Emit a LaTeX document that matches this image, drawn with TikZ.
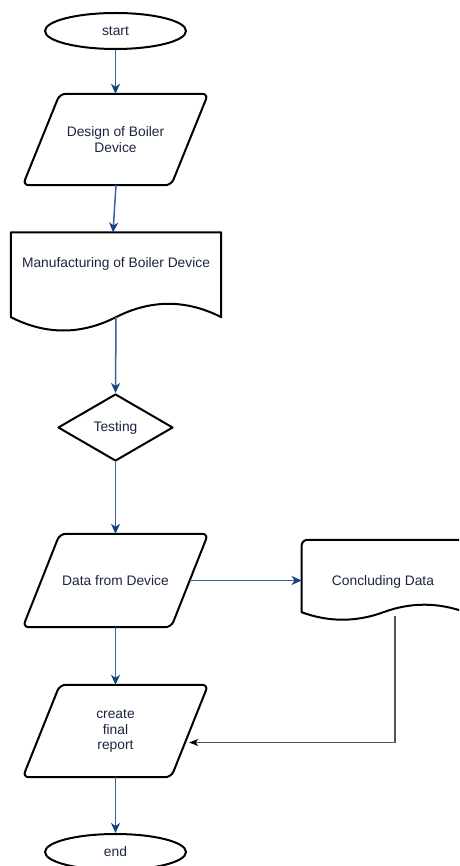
\documentclass[tikz,border=0pt]{standalone}
\usepackage{fontspec}
\setmainfont{Liberation Sans}
\usetikzlibrary{shapes.geometric,arrows.meta}
\definecolor{txt}{RGB}{28,38,66}
\definecolor{flowc}{RGB}{55,100,158}
\definecolor{tipc}{RGB}{22,66,126}
\definecolor{grayc}{RGB}{85,85,85}
\tikzset{
  lbl/.style={font=\fontsize{13.8}{15.7}\selectfont, text=txt, align=center},
  shp/.style={draw=black, line width=2pt, line join=round},
  term/.style={ellipse, shp, lbl, minimum width=141pt, minimum height=36pt, inner sep=0pt},
  boxnode/.style={rectangle, lbl, draw=none, inner sep=0pt},
  decision/.style={diamond, shp, lbl, minimum width=115pt, minimum height=67pt, inner sep=0pt},
  flow/.style={draw=flowc, line width=1.5pt, -{Stealth[length=10pt,width=9pt,inset=3pt,color=tipc]}},
  back/.style={draw=grayc, line width=1.2pt, -{Stealth[length=9pt,width=7pt,inset=2.5pt,color=black]}}
}
\begin{document}
\begin{tikzpicture}[x=1pt,y=-1pt]
\useasboundingbox (0,0) rectangle (459,866);
\clip (0,0) rectangle (459,866);
\fill[white] (0,0) rectangle (459,866);

% nodes
\node[term] (start) at (115.5,31) {start};
\node[boxnode, minimum width=185pt, minimum height=91pt] (p1) at (115.5,139.5) {Design of Boiler\\Device};
\node[boxnode, minimum width=210pt, minimum height=84.3pt] (doc1) at (116,274.8) {};
\node[lbl] (doc1t) at (116,264) {Manufacturing of Boiler Device};
\node[decision] (test) at (115.5,427.5) {Testing};
\node[boxnode, minimum width=185pt, minimum height=93pt] (p2) at (115.5,580.5) {Data from Device};
\node[boxnode, minimum width=163.3pt, minimum height=72pt] (doc2) at (383.4,576) {};
\node[lbl] (doc2t) at (383,581.7) {Concluding Data};
\node[boxnode, minimum width=185pt, minimum height=92pt] (p3) at (115.5,731) {create\\final\\report};
\node[term] (end) at (115.5,852) {end};

% outlines
\draw[shp, rounded corners=6pt] ([xshift=37pt]p1.north west) -- (p1.north east) -- ([xshift=-37pt]p1.south east) -- (p1.south west) -- cycle;
\draw[shp, rounded corners=6pt] ([xshift=37pt]p2.north west) -- (p2.north east) -- ([xshift=-37pt]p2.south east) -- (p2.south west) -- cycle;
\draw[shp, rounded corners=6pt] ([xshift=37pt]p3.north west) -- (p3.north east) -- ([xshift=-37pt]p3.south east) -- (p3.south west) -- cycle;

\draw[shp] (doc1.north west) -- (doc1.north east) -- (doc1.south east)
  .. controls +(-35,-17.8) and +(35,-17.8) .. (doc1.south)
  .. controls +(-35,17.8) and +(35,17.8) .. (doc1.south west) -- cycle;

\draw[shp] (doc2.south west) [rounded corners=6pt] -- (doc2.north west) -- (doc2.north east) [sharp corners] -- (doc2.south east)
  .. controls +(-27.2,-10) and +(27.2,-10) .. (doc2.south)
  .. controls +(-27.2,10) and +(27.2,10) .. (doc2.south west) -- cycle;

% connectors
\draw[flow] (start.south) -- (p1.north);
\draw[flow] ([xshift=0.5pt]p1.south) -- ([xshift=-3pt]doc1.north);
\draw[flow] (doc1.south) -- (test.north);
\draw[flow] (test.south) -- (p2.north);
\coordinate (p2r) at ([xshift=-18.5pt]p2.east);
\draw[flow] (p2r) -- (p2r -| doc2.west);
\draw[flow] (p2.south) -- (p3.north);
\draw[flow] (p3.south) -- (end.north);
\coordinate (d2o) at ([xshift=11.6pt,yshift=-4pt]doc2.south);
\coordinate (p3in) at ([xshift=-19pt,yshift=-11.5pt]p3.east);
\draw[back] (d2o) |- (p3in);
\end{tikzpicture}
\end{document}
